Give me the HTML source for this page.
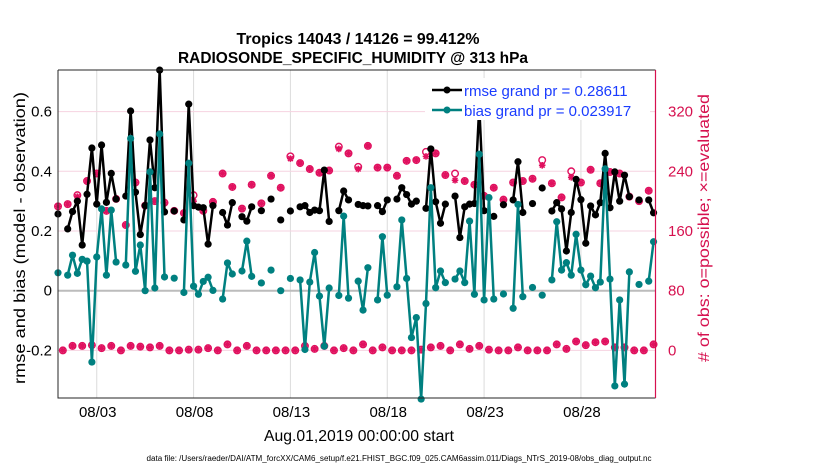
<!DOCTYPE html>
<html><head><meta charset="utf-8"><style>
body{margin:0;background:#fff;}
svg{display:block;font-family:"Liberation Sans",Arial,sans-serif;}
</style></head><body>
<svg id="chart" width="830" height="470" viewBox="0 0 830 470">
<rect width="830" height="470" fill="#fff"/>
<text x="358" y="44" text-anchor="middle" font-size="16" font-weight="bold" textLength="243" lengthAdjust="spacingAndGlyphs">Tropics 14043 / 14126 = 99.412%</text>
<text x="353" y="63" text-anchor="middle" font-size="16" font-weight="bold" textLength="350" lengthAdjust="spacingAndGlyphs">RADIOSONDE_SPECIFIC_HUMIDITY @ 313 hPa</text>
<g id="grid"></g>
<g id="marks"></g>
<g id="axes"></g>
<text transform="translate(25,238) rotate(-90)" text-anchor="middle" font-size="15.5" textLength="292" lengthAdjust="spacingAndGlyphs">rmse and bias (model - observation)</text>
<text transform="translate(709,228) rotate(-90)" text-anchor="middle" font-size="15.5" fill="#d6114f" textLength="268" lengthAdjust="spacingAndGlyphs"># of obs: o=possible; ×=evaluated</text>
<text x="359" y="441" text-anchor="middle" font-size="16" textLength="190" lengthAdjust="spacingAndGlyphs">Aug.01,2019 00:00:00 start</text>
<text x="399" y="461" text-anchor="middle" font-size="8" textLength="505" lengthAdjust="spacingAndGlyphs">data file: /Users/raeder/DAI/ATM_forcXX/CAM6_setup/f.e21.FHIST_BGC.f09_025.CAM6assim.011/Diags_NTrS_2019-08/obs_diag_output.nc</text>
<g>
<rect x="425" y="78" width="225" height="42" fill="#fff"/>
<line x1="432" y1="90" x2="462" y2="90" stroke="#000" stroke-width="2.5"/>
<circle cx="447" cy="90" r="3.5" fill="#000"/>
<text x="464" y="96" font-size="15" fill="#1a3cff">rmse grand pr = 0.28611</text>
<line x1="432" y1="110" x2="462" y2="110" stroke="#008080" stroke-width="2.5"/>
<circle cx="447" cy="110" r="3.5" fill="#008080"/>
<text x="464" y="116" font-size="15" fill="#1a3cff">bias grand pr = 0.023917</text>
</g>
</svg>
<script>
const N=null;
const rmseValues=[.257,N,.207,.265,.30,.153,.323,.478,.29,.488,.296,.393,.307,N,.317,.602,.33,.188,.285,.505,.345,.739,.264,N,.267,N,.237,.625,.285,.28,.278,.156,.285,N,.262,.22,.295,N,.248,.233,.281,N,.268,N,.307,N,.237,N,.267,N,.281,.285,.262,.27,.268,.404,.232,N,.268,.334,.304,N,.289,.285,.284,N,.285,.265,.304,N,.307,.345,.322,.29,.30,N,.276,.475,.298,.226,.29,N,.317,.178,.281,.29,.292,.616,.268,N,.249,N,.288,N,.304,.432,.262,N,.292,N,.344,N,.267,.295,.274,.133,.262,.373,.305,.159,.284,.254,.295,.46,.278,.398,.30,.387,.315,N,.304,N,.304,.261];
const biasValues=[.06,N,.052,.119,.058,.105,.099,-.239,.113,.274,.052,.27,.096,N,.086,.51,.065,.153,0,.398,.009,.525,.046,N,.042,N,-.006,.427,.015,-.012,.031,.045,.001,N,-.028,.093,.056,N,.066,.166,.048,N,.026,N,.069,N,0,N,.041,N,.036,-.197,.029,.128,-.018,-.186,.009,N,-.016,.25,-.025,N,.032,-.065,.077,N,-.031,.181,-.015,N,.013,.237,.041,-.157,-.09,-.363,-.043,.345,.01,.066,.027,N,.039,.066,.027,.233,-.012,.457,-.031,.312,-.028,N,-.011,N,-.059,.289,-.02,N,.011,N,-.015,N,.036,.231,.069,.094,.052,.189,.069,.02,.049,.01,.029,.408,.039,-.319,-.031,-.313,.063,N,.021,N,.032,.164];
const possibleCounts=[193,0,196,6,208,6,227,7,237,3,187,6,203,0,168,6,225,5,194,4,200,6,198,0,187,0,184,1,208,1,187,3,199,0,237,8,219,0,190,6,222,0,197,0,234,0,218,0,260,0,251,6,243,2,238,6,241,0,273,3,264,0,246,8,274,0,245,4,245,0,234,0,254,0,255,1,266,4,264,6,235,0,237,8,227,2,222,6,207,1,218,0,202,0,225,4,227,0,230,0,255,0,224,8,205,2,240,12,225,7,242,11,224,12,239,4,237,4,206,0,200,0,214,8];
const evaluatedCounts=[193,0,196,6,206,6,227,7,237,3,187,6,203,0,168,6,225,5,194,4,200,6,198,0,187,0,184,1,200,1,187,3,199,0,237,8,219,0,190,6,222,0,197,0,234,0,218,0,257,0,251,6,243,2,238,6,241,0,270,3,264,0,243,8,274,0,245,4,245,0,234,0,254,0,255,1,260,4,264,6,235,0,228,8,227,2,222,6,207,1,218,0,202,0,225,4,227,0,230,0,248,0,224,8,205,2,232,12,225,7,242,11,224,12,239,4,237,4,206,0,200,0,214,8];
const xTickLabels=["08/03","08/08","08/13","08/18","08/23","08/28"];
const xTickDays=[2,7,12,17,22,27];
const yTicksLeft=[-0.2,0,0.2,0.4,0.6];
const yTicksRight=[0,80,160,240,320];

const NS="http://www.w3.org/2000/svg";
const L=58,R=655.5,T=70,B=398;
const xMin=0,xMax=30.85;
const sx=d=>L+(d-xMin)/(xMax-xMin)*(R-L);
const sy=v=>290.7-v*298.5;
const syR=c=>sy(c/400-0.2);
function mk(tag,attrs,parent){const e=document.createElementNS(NS,tag);for(const k in attrs)e.setAttribute(k,attrs[k]);parent.appendChild(e);return e;}
const grid=document.getElementById('grid'),marks=document.getElementById('marks'),axes=document.getElementById('axes');
mk('rect',{x:L,y:T,width:R-L,height:B-T,fill:'#fff'},grid);
xTickDays.forEach((d,i)=>{
  const g=mk('line',{x1:sx(d),x2:sx(d),y1:T,y2:B,stroke:'#dcdcdc','stroke-width':1},grid);
  
  
  const t=mk('text',{x:sx(d)+1,y:417,'text-anchor':'middle','font-size':15},axes);
  t.textContent=xTickLabels[i];
  
  
});
yTicksRight.forEach(c=>{
  const g=mk('line',{x1:L,x2:R,y1:syR(c),y2:syR(c),stroke:'#f6d3e0','stroke-width':1},grid);
  
  
  const t=mk('text',{x:668,y:syR(c)+5,'font-size':15,fill:'#d6114f'},axes);
  t.textContent=c;
  
  
});
yTicksLeft.forEach(v=>{
  const t=mk('text',{x:52,y:sy(v)+5,'text-anchor':'end','font-size':15},axes);
  t.textContent=v===0?'0':v.toFixed(1);
  
  
});
const z=mk('line',{x1:L,x2:R,y1:sy(0),y2:sy(0),stroke:'#bcbcbc','stroke-width':2},grid);



function drawSeries(vals,color,name){
  let seg=[];const segs=[];
  vals.forEach((v,i)=>{if(v===null){if(seg.length)segs.push(seg);seg=[];}else seg.push([sx(i*0.25),sy(v)]);});
  if(seg.length)segs.push(seg);
  segs.forEach(s=>{
    if(s.length>1){const p=mk('polyline',{points:s.map(q=>q.join(',')).join(' '),fill:'none',stroke:color,'stroke-width':2.5,'stroke-linejoin':'round'},marks);
      
      }
  });
  vals.forEach((v,i)=>{if(v===null)return;
    const c=mk('circle',{cx:sx(i*0.25),cy:sy(v),r:3.6,fill:color},marks);
    
    });
}
function drawCounts(vals,name,isPossible){
  vals.forEach((c,i)=>{
    const x=sx(i*0.25),y=syR(c);
    if(isPossible){
      const e=mk('circle',{cx:x,cy:y,r:3.3,fill:'#fff',stroke:'#e0115f','stroke-width':1.4},marks);
      
      
    } else {
      const e=mk('path',{d:`M${x-3.3},${y}H${x+3.3}M${x},${y-3.3}V${y+3.3}M${x-2.4},${y-2.4}L${x+2.4},${y+2.4}M${x-2.4},${y+2.4}L${x+2.4},${y-2.4}`,stroke:'#e0115f','stroke-width':1.6},marks);
      
      
    }
  });
}
drawCounts(possibleCounts,'obs-possible',true);
drawCounts(evaluatedCounts,'obs-evaluated',false);
drawSeries(rmseValues,'#000','rmse');
drawSeries(biasValues,'#008080','bias');
const f1=mk('path',{d:`M${L},${T}V${B}H${R}`,fill:'none',stroke:'#262626','stroke-width':1},axes);


const f2=mk('path',{d:`M${L},${T}H${R}`,fill:'none',stroke:'#262626','stroke-width':1},axes);


const f3=mk('line',{x1:R,x2:R,y1:T,y2:B,stroke:'#d6114f','stroke-width':1.2},axes);


</script>
</body></html>
